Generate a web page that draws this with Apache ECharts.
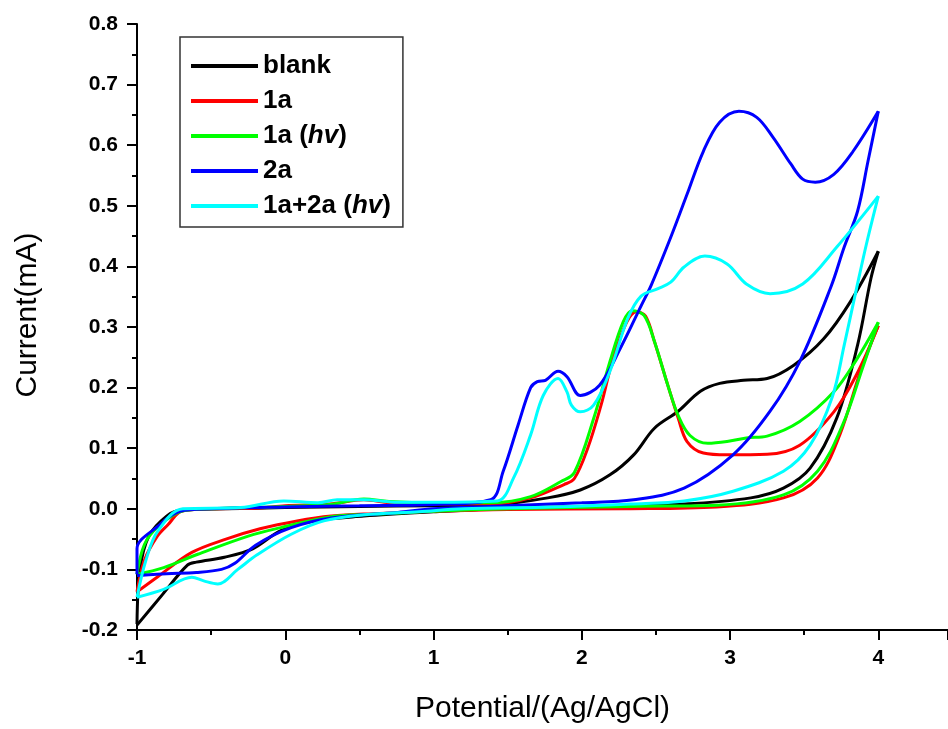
<!DOCTYPE html>
<html>
<head>
<meta charset="utf-8">
<script src="https://cdn.jsdelivr.net/npm/echarts@6/dist/echarts.min.js"></script>
<style>
html, body { margin: 0; padding: 0; background: #fff; }
#main { width: 948px; height: 729px; }
</style>
</head>
<body>
<div id="main"></div>
<script>
var seriesNames = ['blank', '1a', '1a (hv)', '2a', '1a+2a (hv)'];
var seriesColors = ['#000000', '#ff0000', '#00ff00', '#0000ff', '#00ffff'];

// forward (anodic) and reverse scans, [potential, current]
var blankFwd = [[-1, -0.19], [-0.98, -0.1], [-0.92, -0.045], [-0.8, -0.012], [-0.7, -0.002], [-0.4, 0], [0, 0.002], [0.5, 0.004], [1, 0.005], [1.43, 0.007], [1.77, 0.018], [1.99, 0.031], [2.19, 0.056], [2.35, 0.089], [2.49, 0.133], [2.65, 0.161], [2.8, 0.194], [2.93, 0.207], [3.09, 0.212], [3.25, 0.215], [3.43, 0.237], [3.63, 0.28], [3.81, 0.341], [4.0, 0.425]];
var blankRev = [[4.0, 0.425], [3.95, 0.38], [3.86, 0.27], [3.72, 0.15], [3.54, 0.067], [3.36, 0.034], [3.14, 0.018], [2.69, 0.008], [2.0, 0.004], [1.5, 0.001], [1.0, -0.005], [0.53, -0.012], [0.19, -0.02], [-0.03, -0.036], [-0.22, -0.066], [-0.41, -0.08], [-0.6, -0.088], [-0.66, -0.093], [-0.83, -0.142], [-1, -0.192]];

var redFwd = [[-1, -0.137], [-0.95, -0.085], [-0.865, -0.046], [-0.79, -0.026], [-0.7, -0.004], [-0.5, 0], [-0.2, 0.001], [0, 0.005], [0.3, 0.008], [0.53, 0.015], [0.7, 0.01], [1.0, 0.008], [1.4, 0.008], [1.655, 0.018], [1.88, 0.04], [1.95, 0.05], [2.04, 0.1], [2.13, 0.171], [2.24, 0.27], [2.37, 0.325], [2.43, 0.318], [2.49, 0.276], [2.58, 0.204], [2.65, 0.15], [2.71, 0.111], [2.82, 0.092], [2.98, 0.089], [3.25, 0.09], [3.47, 0.105], [3.7, 0.16], [3.85, 0.22], [4.0, 0.302]];
var redRev = [[4.0, 0.302], [3.88, 0.227], [3.74, 0.122], [3.59, 0.051], [3.36, 0.018], [2.91, 0.003], [2.3, 0.0], [1.5, -0.001], [1.0, -0.004], [0.6, -0.008], [0.31, -0.012], [0.08, -0.02], [-0.17, -0.033], [-0.4, -0.05], [-0.63, -0.072], [-0.86, -0.112], [-1, -0.137]];

var greenFwd = [[-1, -0.108], [-0.95, -0.059], [-0.86, -0.03], [-0.7, -0.004], [-0.5, 0], [0, 0.004], [0.3, 0.007], [0.53, 0.016], [0.7, 0.012], [1.0, 0.01], [1.4, 0.01], [1.655, 0.02], [1.86, 0.045], [1.95, 0.06], [2.08, 0.149], [2.19, 0.243], [2.28, 0.309], [2.34, 0.327], [2.42, 0.319], [2.49, 0.276], [2.58, 0.204], [2.65, 0.154], [2.73, 0.121], [2.85, 0.108], [2.98, 0.111], [3.11, 0.117], [3.25, 0.12], [3.47, 0.144], [3.7, 0.193], [3.85, 0.245], [4.0, 0.308]];
var greenRev = [[4.0, 0.308], [3.9, 0.237], [3.76, 0.139], [3.59, 0.062], [3.36, 0.023], [2.91, 0.006], [2.33, 0.004], [1.5, 0.0], [1.0, -0.004], [0.6, -0.009], [0.31, -0.013], [-0.03, -0.031], [-0.25, -0.045], [-0.59, -0.075], [-0.82, -0.097], [-1, -0.108]];

var blueFwd = [[-1, -0.108], [-1, -0.066], [-0.86, -0.029], [-0.71, -0.004], [-0.5, 0], [0, 0.003], [0.5, 0.005], [1.0, 0.007], [1.385, 0.015], [1.47, 0.062], [1.57, 0.138], [1.655, 0.2], [1.7, 0.21], [1.755, 0.212], [1.84, 0.227], [1.9, 0.218], [1.99, 0.187], [2.12, 0.204], [2.26, 0.265], [2.4, 0.335], [2.47, 0.37], [2.6, 0.448], [2.71, 0.519], [2.82, 0.59], [2.93, 0.638], [3.06, 0.656], [3.18, 0.646], [3.29, 0.613], [3.41, 0.569], [3.49, 0.544], [3.575, 0.539], [3.7, 0.552], [3.83, 0.59], [4.0, 0.656]];
var blueRev = [[4.0, 0.656], [3.93, 0.573], [3.86, 0.491], [3.77, 0.432], [3.68, 0.366], [3.47, 0.243], [3.27, 0.161], [3.02, 0.089], [2.69, 0.034], [2.35, 0.015], [2.0, 0.01], [1.5, 0.005], [1.0, 0.0], [0.76, -0.006], [0.31, -0.015], [0.04, -0.031], [-0.2, -0.06], [-0.34, -0.09], [-0.43, -0.1], [-0.6, -0.105], [-0.8, -0.107], [-1, -0.11]];

var cyanFwd = [[-1, -0.146], [-0.94, -0.085], [-0.86, -0.037], [-0.69, 0], [-0.3, 0.002], [-0.01, 0.013], [0.22, 0.01], [0.35, 0.015], [0.53, 0.015], [0.76, 0.011], [1.0, 0.011], [1.43, 0.013], [1.54, 0.051], [1.655, 0.122], [1.74, 0.187], [1.84, 0.215], [1.9, 0.193], [1.93, 0.171], [1.99, 0.16], [2.08, 0.171], [2.19, 0.227], [2.31, 0.314], [2.4, 0.351], [2.51, 0.363], [2.6, 0.374], [2.69, 0.399], [2.83, 0.417], [2.98, 0.404], [3.11, 0.371], [3.27, 0.355], [3.49, 0.371], [3.72, 0.432], [4.0, 0.516]];
var cyanRev = [[4.0, 0.516], [3.92, 0.437], [3.85, 0.36], [3.77, 0.27], [3.69, 0.185], [3.54, 0.105], [3.36, 0.062], [3.02, 0.029], [2.69, 0.013], [2.33, 0.008], [1.8, 0.003], [1.2, 0.0], [0.9, -0.005], [0.53, -0.01], [0.26, -0.02], [0.04, -0.042], [-0.19, -0.076], [-0.32, -0.1], [-0.455, -0.124], [-0.55, -0.119], [-0.63, -0.113], [-0.82, -0.133], [-1, -0.146]];

var curves = [[blankFwd, blankRev], [redFwd, redRev], [greenFwd, greenRev], [blueFwd, blueRev], [cyanFwd, cyanRev]];

(function () {
    var font = 'Arial, "Liberation Sans", sans-serif';
    var series = [];
    curves.forEach(function (pair, i) {
        pair.forEach(function (arr) {
            series.push({
                name: seriesNames[i],
                type: 'line',
                data: arr,
                smooth: 0.35,
                symbol: 'none',
                lineStyle: { color: seriesColors[i], width: 3 },
                itemStyle: { color: seriesColors[i] },
                z: 2 + i
            });
        });
    });

    var myChart = echarts.init(document.getElementById('main'));
    myChart.setOption({
        animation: false,
        backgroundColor: '#ffffff',
        grid: { left: 137, right: 0, top: 24, bottom: 97 },
        legend: {
            data: seriesNames,
            orient: 'vertical',
            left: 180,
            top: 37,
            padding: [14, 12, 6, 11],
            itemWidth: 67,
            itemHeight: 4,
            itemGap: 5,
            itemTextGap: 7,
            icon: 'rect',
            borderColor: '#333',
            borderWidth: 1.5,
            formatter: function (name) {
                return name.replace('hv', '{i|hv}');
            },
            textStyle: {
                fontFamily: font, fontWeight: 'bold', fontSize: 26, color: '#000', lineHeight: 30,
                rich: {
                    i: { fontFamily: font, fontWeight: 'bold', fontStyle: 'italic', fontSize: 26, color: '#000', lineHeight: 30 }
                }
            }
        },
        xAxis: {
            type: 'value',
            min: -1,
            max: 4.47,
            interval: 1,
            name: 'Potential/(Ag/AgCl)',
            nameLocation: 'middle',
            nameGap: 64,
            nameTextStyle: { fontFamily: font, fontSize: 30, color: '#000' },
            axisLine: { show: true, onZero: false, lineStyle: { color: '#000', width: 2 } },
            axisTick: { show: true, inside: false, length: 10, lineStyle: { color: '#000', width: 2 } },
            minorTick: { show: true, splitNumber: 2, length: 5, lineStyle: { color: '#000', width: 2 } },
            axisLabel: {
                margin: 18, fontFamily: font, fontWeight: 'bold', fontSize: 21, color: '#000',
                showMaxLabel: false,
                formatter: function (v) { return Math.abs(v - Math.round(v)) < 1e-6 ? String(Math.round(v)) : ''; }
            },
            splitLine: { show: false }
        },
        yAxis: {
            type: 'value',
            min: -0.2,
            max: 0.8,
            interval: 0.1,
            name: 'Current(mA)',
            nameLocation: 'middle',
            nameGap: 94,
            nameTextStyle: { fontFamily: font, fontSize: 30, color: '#000', padding: [0, 0, 0, 24] },
            axisLine: { show: true, onZero: false, lineStyle: { color: '#000', width: 2 } },
            axisTick: { show: true, inside: false, length: 10, lineStyle: { color: '#000', width: 2 } },
            minorTick: { show: true, splitNumber: 2, length: 5, lineStyle: { color: '#000', width: 2 } },
            axisLabel: {
                margin: 19, fontFamily: font, fontWeight: 'bold', fontSize: 21, color: '#000',
                formatter: function (v) { return v.toFixed(1); }
            },
            splitLine: { show: false }
        },
        series: series
    });
})();
</script>
</body>
</html>
